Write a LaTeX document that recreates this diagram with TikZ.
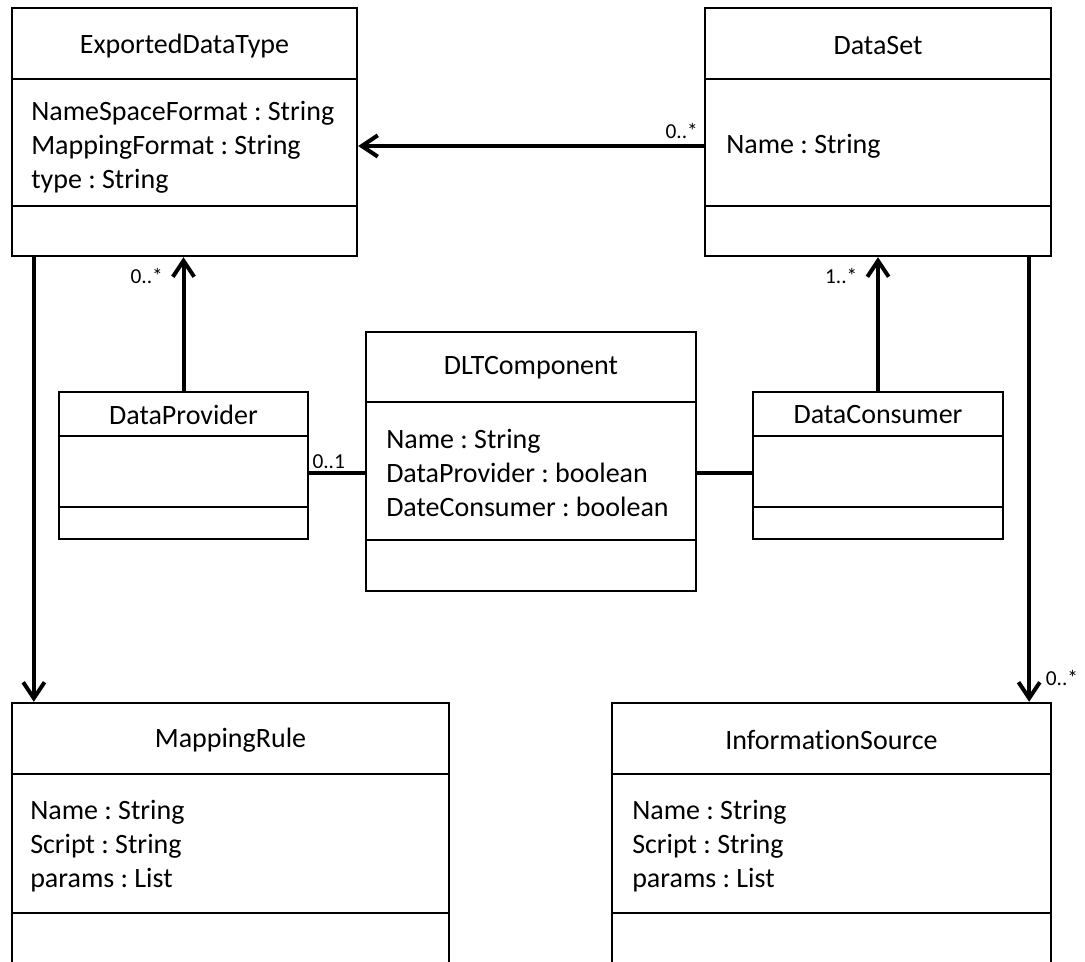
\documentclass[tikz,border=0pt]{standalone}
\usepackage{fontspec}
\setmainfont{Carlito}[Ligatures=NoCommon]
\frenchspacing
\usetikzlibrary{arrows.meta}
\usetikzlibrary{calc}

\tikzset{
  classbox/.style={draw, line width=1.75pt, inner sep=0pt},
  divider/.style={line width=1.75pt},
  classtitle/.style={inner sep=0pt, font=\fontsize{21}{25.5}\selectfont},
  attrs/.style={anchor=west, align=left, inner sep=0pt, font=\fontsize{21}{25.5}\selectfont},
  assoc/.style={line width=3pt},
  mult/.style={inner sep=1pt, font=\fontsize{16}{19}\selectfont},
}

\begin{document}
\begin{tikzpicture}[line join=miter, >={Straight Barb[length=12pt,width=16pt]}, x=0.75pt, y=-0.75pt]
\clip (0,0) rectangle (1085,962);
% ExportedDataType
\node[classbox, minimum width=345*0.75pt, minimum height=248*0.75pt] (edt) at (184.5,132) {};
\node[classtitle] (edttitle) at (184.5,46) {ExportedDataType};
\node[attrs] (edtattr) at (31,147) {NameSpaceFormat : String\\MappingFormat : String\\type : String};
\draw[divider] ($(edt.north west)+(0,72)$) -- ($(edt.north east)+(0,72)$);
\draw[divider] ($(edt.north west)+(0,199)$) -- ($(edt.north east)+(0,199)$);
% DataSet
\node[classbox, minimum width=346*0.75pt, minimum height=248*0.75pt] (ds) at (878,132) {};
\node[classtitle] (dstitle) at (878,46) {DataSet};
\node[attrs] (dsattr) at (726,146) {Name : String};
\draw[divider] ($(ds.north west)+(0,72)$) -- ($(ds.north east)+(0,72)$);
\draw[divider] ($(ds.north west)+(0,199)$) -- ($(ds.north east)+(0,199)$);
% DLTComponent
\node[classbox, minimum width=330*0.75pt, minimum height=259*0.75pt] (dlt) at (531,461.5) {};
\node[classtitle] (dlttitle) at (531,368) {DLTComponent};
\node[attrs] (dltattr) at (386,473) {Name : String\\DataProvider : boolean\\DateConsumer : boolean};
\draw[divider] ($(dlt.north west)+(0,71)$) -- ($(dlt.north east)+(0,71)$);
\draw[divider] ($(dlt.north west)+(0,209)$) -- ($(dlt.north east)+(0,209)$);
% DataProvider
\node[classbox, minimum width=249*0.75pt, minimum height=147*0.75pt] (dprov) at (183.5,465.5) {};
\node[classtitle] (dprovtitle) at (183.5,415) {DataProvider};
\draw[divider] ($(dprov.north west)+(0,45)$) -- ($(dprov.north east)+(0,45)$);
\draw[divider] ($(dprov.north west)+(0,116)$) -- ($(dprov.north east)+(0,116)$);
% DataConsumer
\node[classbox, minimum width=250*0.75pt, minimum height=147*0.75pt] (dcons) at (878,465.5) {};
\node[classtitle] (dconstitle) at (878,415) {DataConsumer};
\draw[divider] ($(dcons.north west)+(0,45)$) -- ($(dcons.north east)+(0,45)$);
\draw[divider] ($(dcons.north west)+(0,116)$) -- ($(dcons.north east)+(0,116)$);
% MappingRule
\node[classbox, minimum width=437*0.75pt, minimum height=297*0.75pt] (mrule) at (230.5,851.5) {};
\node[classtitle] (mruletitle) at (230.5,740) {MappingRule};
\node[attrs] (mruleattr) at (30,846) {Name : String\\Script : String\\params : List};
\draw[divider] ($(mrule.north west)+(0,72)$) -- ($(mrule.north east)+(0,72)$);
\draw[divider] ($(mrule.north west)+(0,211)$) -- ($(mrule.north east)+(0,211)$);
% InformationSource
\node[classbox, minimum width=439*0.75pt, minimum height=297*0.75pt] (isrc) at (831.5,851.5) {};
\node[classtitle] (isrctitle) at (831.5,740) {InformationSource};
\node[attrs] (isrcattr) at (632,846) {Name : String\\Script : String\\params : List};
\draw[divider] ($(isrc.north west)+(0,72)$) -- ($(isrc.north east)+(0,72)$);
\draw[divider] ($(isrc.north west)+(0,211)$) -- ($(isrc.north east)+(0,211)$);
% associations
\draw[assoc,->] (ds.west |- dsattr) -- (edt.east |- dsattr)
  node[mult, pos=0, anchor=south east, xshift=-2pt, yshift=3pt] {0..*};
\draw[assoc,->] (dprov.north) -- (edt.south -| dprov.north)
  node[mult, pos=1, anchor=north east, xshift=-13pt, yshift=-6pt] {0..*};
\draw[assoc,->] (dcons.north) -- (ds.south -| dcons.north)
  node[mult, pos=1, anchor=north east, xshift=-13pt, yshift=-6pt] {1..*};
\draw[assoc] (dprov.east |- dltattr) -- (dlt.west |- dltattr)
  node[mult, pos=0, anchor=south west, yshift=1pt] {0..1};
\draw[assoc] (dlt.east |- dltattr) -- (dcons.west |- dltattr);
\draw[assoc,->] ($(edt.south west)+(23,0)$) -- ($(mrule.north west)+(23,0)$);
\draw[assoc,->] ($(ds.south east)+(-23,0)$) -- ($(isrc.north east)+(-23,0)$)
  node[mult, pos=1, anchor=south west, xshift=10pt, yshift=10pt] {0..*};
\end{tikzpicture}
\end{document}
